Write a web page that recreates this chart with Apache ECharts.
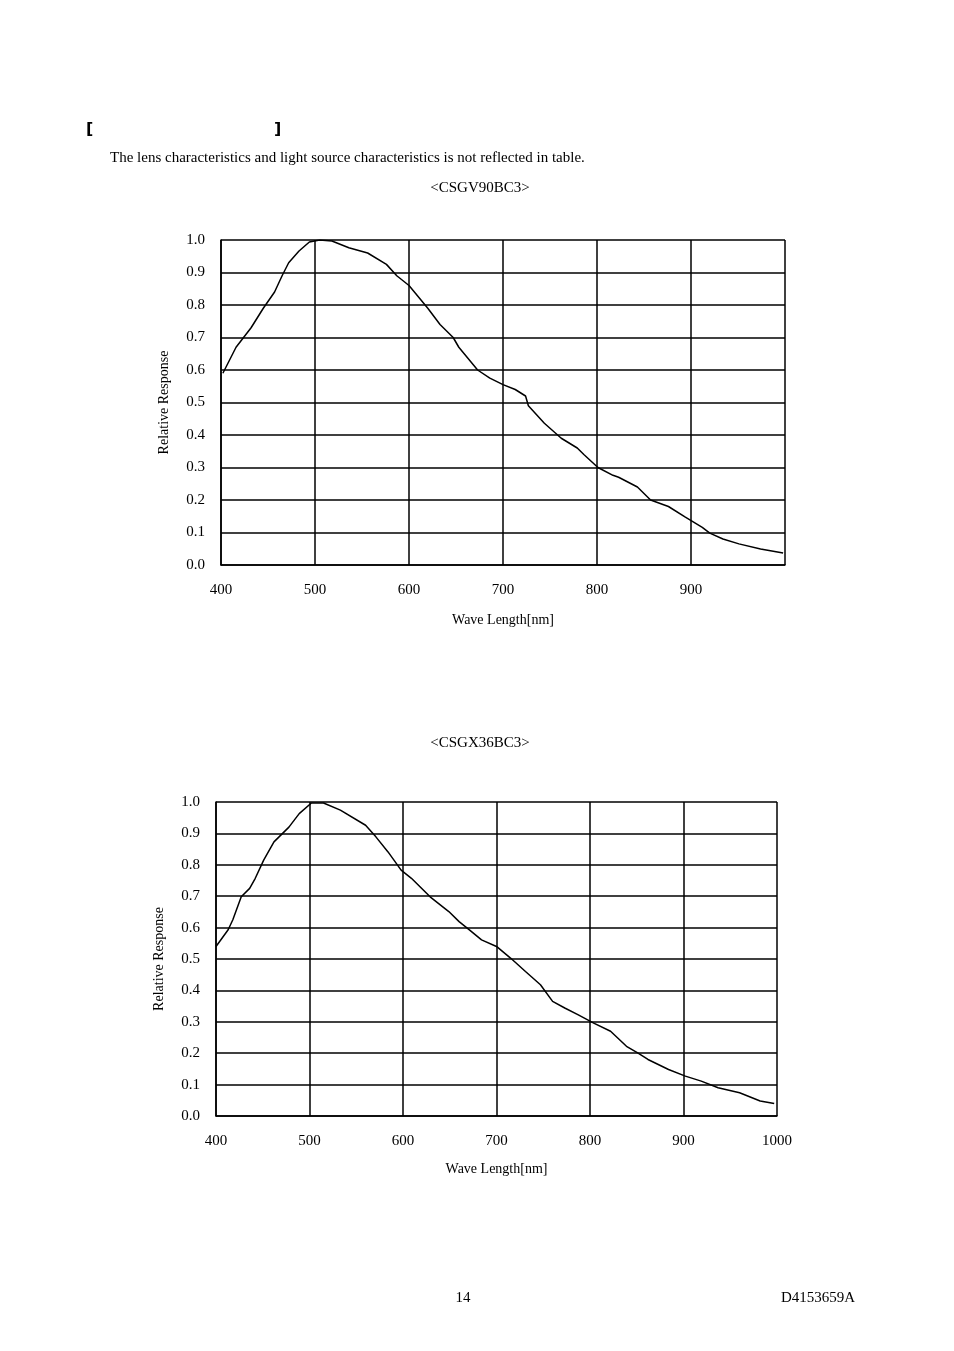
<!DOCTYPE html>
<html><head><meta charset="utf-8">
<script src="https://cdn.jsdelivr.net/npm/echarts@6/dist/echarts.min.js"></script>
<style>html,body{margin:0;padding:0;background:#fff}#c{width:954px;height:1351px}</style>
</head><body><div id="c"></div>
<script>
const wl1 = [402,416,432,445,457,465,472,483,494,505,518,536,556,576,587,600,620,633,647,653,673,686,700,713,724,727,744,762,779,786,801,817,823,843,857,876,894,912,920,934,951,974,998];
const rr1 = [0.59,0.67,0.73,0.79,0.84,0.89,0.93,0.966,0.994,1.0,0.997,0.976,0.96,0.925,0.89,0.86,0.79,0.74,0.70,0.67,0.60,0.575,0.555,0.54,0.52,0.49,0.436,0.39,0.36,0.34,0.30,0.276,0.27,0.24,0.20,0.18,0.147,0.116,0.098,0.08,0.065,0.049,0.037];
const wl2 = [400,413,418,427,436,442,451,462,478,489,502,515,533,560,571,584,598,609,629,649,660,671,684,700,715,731,747,760,773,787,804,822,839,851,862,884,902,919,937,960,982,997];
const rr2 = [0.54,0.593,0.625,0.698,0.725,0.757,0.815,0.873,0.92,0.963,0.997,0.997,0.974,0.926,0.889,0.841,0.783,0.757,0.698,0.651,0.619,0.593,0.561,0.54,0.503,0.46,0.418,0.365,0.344,0.323,0.296,0.27,0.222,0.201,0.18,0.148,0.127,0.111,0.09,0.074,0.048,0.04];
const xTicks = [400,500,600,700,800,900,1000];
const yTicks = [0,0.1,0.2,0.3,0.4,0.5,0.6,0.7,0.8,0.9,1.0];

const F = 'Liberation Serif';
function xAx(i, show1000){
  return {gridIndex:i,type:'value',min:400,max:1000,interval:100,
    name:'Wave Length[nm]',nameLocation:'middle',nameGap:i===0?48:46,
    nameTextStyle:{fontFamily:F,fontSize:14,color:'#000'},
    axisLine:{lineStyle:{color:'#000',width:1.5}},axisTick:{show:false},
    axisLabel:{fontFamily:F,fontSize:15,color:'#000',margin:18,
      formatter:v=>(v===1000&&!show1000)?'':String(v)},
    splitLine:{show:true,lineStyle:{color:'#000',width:1.5}}};
}
function yAx(i){
  return {gridIndex:i,type:'value',min:0,max:1,interval:0.1,
    name:'Relative Response',nameLocation:'middle',nameGap:50,
    nameTextStyle:{fontFamily:F,fontSize:14,color:'#000'},
    axisLine:{lineStyle:{color:'#000',width:1.5}},axisTick:{show:false},
    axisLabel:{fontFamily:F,fontSize:15,color:'#000',margin:16,formatter:v=>v.toFixed(1)},
    splitLine:{show:true,lineStyle:{color:'#000',width:1.5}}};
}
const chart = echarts.init(document.getElementById('c'));
chart.setOption({
  animation:false,
  grid:[{left:221,top:240,width:564,height:325},{left:216,top:802,width:561,height:314}],
  xAxis:[xAx(0,false),xAx(1,true)],
  yAxis:[yAx(0),yAx(1)],
  series:[
    {type:'line',xAxisIndex:0,yAxisIndex:0,showSymbol:false,data:wl1.map((w,k)=>[w,rr1[k]]),lineStyle:{color:'#000',width:1.5}},
    {type:'line',xAxisIndex:1,yAxisIndex:1,showSymbol:false,data:wl2.map((w,k)=>[w,rr2[k]]),lineStyle:{color:'#000',width:1.5}}
  ],
  graphic:[
    {type:'text',left:86,top:122,style:{text:'[',font:'bold 16px "DejaVu Sans"',fill:'#000'}},
    {type:'text',left:274,top:122,style:{text:']',font:'bold 16px "DejaVu Sans"',fill:'#000'}},
    {type:'text',left:110,top:151,style:{text:'The lens characteristics and light source characteristics is not reflected in table.',font:'15px "Liberation Serif"',fill:'#000'}},
    {type:'text',x:480,y:188,style:{text:'<CSGV90BC3>',font:'15px "Liberation Serif"',fill:'#000',align:'center',verticalAlign:'middle'}},
    {type:'text',x:480,y:743,style:{text:'<CSGX36BC3>',font:'15px "Liberation Serif"',fill:'#000',align:'center',verticalAlign:'middle'}},
    {type:'text',x:463,y:1298,style:{text:'14',font:'15px "Liberation Serif"',fill:'#000',align:'center',verticalAlign:'middle'}},
    {type:'text',x:818,y:1298,style:{text:'D4153659A',font:'15px "Liberation Serif"',fill:'#000',align:'center',verticalAlign:'middle'}}
  ]
});
</script></body></html>
